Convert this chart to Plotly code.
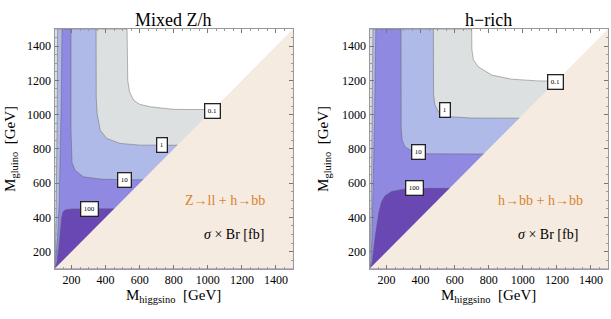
import plotly.graph_objects as go

# ---------------- data ----------------
X_RANGE = [100, 1500]
Y_RANGE = [100, 1500]
TICKS = [200, 400, 600, 800, 1000, 1200, 1400]
LEVELS = ["0.1", "1", "10", "100"]
LEVEL_COLORS = ["#DCE0E0", "#B0BAE8", "#8F89E2", "#6A48B4"]
BEIGE = "#F6EBE0"

# Panel 1: Mixed Z/h  -- contour paths (left branch bottom->top, then right branch top->right)
MIX_C01_X = [98, 98, 526, 527, 530, 540, 564, 600, 662, 750, 800, 900, 1500]
MIX_C01_Y = [90, 1500, 1500, 1300, 1200, 1135, 1085, 1060, 1046, 1036, 1031, 1030, 1030]
MIX_C1_X = [100, 105, 109, 113, 116, 118, 344, 345, 350, 368, 407, 485, 603, 1500]
MIX_C1_Y = [95, 200, 400, 700, 1000, 1500, 1500, 1100, 1008, 909, 861, 832, 822, 820]
MIX_C10_X = [101, 110, 118, 128, 135, 140, 144, 197, 197, 199, 203, 221, 269, 368, 500, 1500]
MIX_C10_Y = [97, 200, 280, 500, 800, 1100, 1500, 1500, 900, 780, 720, 676, 637, 624, 620, 618]
MIX_C100_X = [101, 108, 113, 125, 135, 142, 150, 165, 200, 300, 1500]
MIX_C100_Y = [97, 118, 132, 220, 330, 400, 432, 445, 449, 450, 450]

# Panel 2: h-rich
HR_C01_X = [98, 98, 700, 701, 710, 739, 818, 935, 1090, 1500]
HR_C01_Y = [90, 1500, 1500, 1380, 1320, 1279, 1231, 1207, 1197, 1192]
HR_C1_X = [100, 104, 108, 113, 117, 120, 475, 476, 483, 504, 583, 700, 1500]
HR_C1_Y = [95, 200, 400, 700, 1000, 1500, 1500, 1120, 1060, 1017, 987, 980, 978]
HR_C10_X = [101, 108, 115, 122, 130, 137, 285, 286, 292, 308, 367, 450, 1500]
HR_C10_Y = [97, 150, 300, 600, 1000, 1500, 1500, 920, 850, 812, 777, 771, 768]
HR_C100_X = [101, 108, 115, 135, 155, 170, 190, 230, 300, 450, 1500]
HR_C100_Y = [97, 120, 135, 300, 430, 490, 525, 552, 565, 570, 572]

# contour label boxes
MIX_LABEL_X = [1025, 732, 509, 306]
MIX_LABEL_Y = [1024, 824, 618, 450]
HR_LABEL_X = [1189, 546, 388, 364]
HR_LABEL_Y = [1192, 1029, 783, 570]

TITLES = ["Mixed Z/h", "h\u2212rich"]
CHANNELS = ["Z\u2192ll + h\u2192bb", "h\u2192bb + h\u2192bb"]
CHANNEL_POS = [(1103, 500), (1101, 500)]
SIGMA_TEXT = "<i>\u03c3</i> \u00d7 Br [fb]"
SIGMA_POS = [(1152, 303), (1150, 303)]
XTITLE = "M<sub>higgsino</sub>  [GeV]"
YTITLE = "M<sub>gluino</sub>  [GeV]"

FONT = "Liberation Serif, Times New Roman, DejaVu Serif, serif"

# ---------------- figure ----------------
fig = go.Figure()

panels = [
    dict(xa="x", ya="y",
         contours=[(MIX_C01_X, MIX_C01_Y), (MIX_C1_X, MIX_C1_Y), (MIX_C10_X, MIX_C10_Y), (MIX_C100_X, MIX_C100_Y)],
         lx=MIX_LABEL_X, ly=MIX_LABEL_Y),
    dict(xa="x2", ya="y2",
         contours=[(HR_C01_X, HR_C01_Y), (HR_C1_X, HR_C1_Y), (HR_C10_X, HR_C10_Y), (HR_C100_X, HR_C100_Y)],
         lx=HR_LABEL_X, ly=HR_LABEL_Y),
]

annotations = []
for i, p in enumerate(panels):
    for (cx, cy), col in zip(p["contours"], LEVEL_COLORS):
        fig.add_trace(go.Scatter(
            x=list(cx) + [X_RANGE[1]], y=list(cy) + [Y_RANGE[0]],
            mode="lines", fill="toself", fillcolor=col,
            line=dict(color="rgba(90,90,90,0.55)", width=0.8),
            xaxis=p["xa"], yaxis=p["ya"], showlegend=False, hoverinfo="skip"))
    # kinematically forbidden region (below diagonal)
    fig.add_trace(go.Scatter(
        x=[X_RANGE[0], X_RANGE[1], X_RANGE[1], X_RANGE[0]],
        y=[Y_RANGE[0], Y_RANGE[0], Y_RANGE[1], Y_RANGE[0]],
        mode="lines", fill="toself", fillcolor=BEIGE, line=dict(width=0),
        xaxis=p["xa"], yaxis=p["ya"], showlegend=False, hoverinfo="skip"))
    for t, x, y in zip(LEVELS, p["lx"], p["ly"]):
        annotations.append(dict(
            x=x, y=y, xref=p["xa"], yref=p["ya"], text=t, showarrow=False,
            font=dict(family=FONT, size=7, color="black"),
            bgcolor="white", bordercolor="#222", borderwidth=1.3, borderpad=2.5))
    annotations.append(dict(
        x=CHANNEL_POS[i][0], y=CHANNEL_POS[i][1], xref=p["xa"], yref=p["ya"],
        text=CHANNELS[i], showarrow=False,
        font=dict(family=FONT, size=14, color="#D8832F")))
    annotations.append(dict(
        x=SIGMA_POS[i][0], y=SIGMA_POS[i][1], xref=p["xa"], yref=p["ya"],
        text=SIGMA_TEXT, showarrow=False,
        font=dict(family=FONT, size=14, color="black")))

x_domains = [[54.5 / 611, 293 / 611], [369.5 / 611, 608 / 611]]
y_domain = [1 - 268.8 / 319, 1 - 29 / 319]

for i, xd in enumerate(x_domains):
    cx = (xd[0] + xd[1]) / 2
    annotations.append(dict(x=cx, y=1 - 20 / 319, xref="paper", yref="paper",
                            text=TITLES[i], showarrow=False,
                            font=dict(family=FONT, size=18, color="black"),
                            xanchor="center", yanchor="middle"))
    annotations.append(dict(x=cx, y=1 - 296 / 319, xref="paper", yref="paper",
                            text=XTITLE, showarrow=False,
                            font=dict(family=FONT, size=15, color="black"),
                            xanchor="center", yanchor="middle"))
    annotations.append(dict(x=(11 + 313 * i) / 611, y=(y_domain[0] + y_domain[1]) / 2,
                            xref="paper", yref="paper", text=YTITLE, showarrow=False,
                            textangle=-90,
                            font=dict(family=FONT, size=15, color="black"),
                            xanchor="center", yanchor="middle"))

axis_common = dict(
    tickvals=TICKS, ticktext=[str(t) for t in TICKS],
    ticks="inside", ticklen=4, tickcolor="#777", tickwidth=1,
    minor=dict(dtick=50, ticks="inside", ticklen=2, tickcolor="#999"),
    showline=True, linecolor="#999", linewidth=1, mirror="ticks",
    showgrid=False, zeroline=False,
    tickfont=dict(family=FONT, size=12, color="black"),
)

fig.update_layout(
    width=611, height=319,
    margin=dict(l=0, r=0, t=0, b=0),
    paper_bgcolor="white", plot_bgcolor="white",
    font=dict(family=FONT, color="black"),
    annotations=annotations,
    xaxis=dict(domain=x_domains[0], range=X_RANGE, anchor="y", **axis_common),
    yaxis=dict(domain=y_domain, range=Y_RANGE, anchor="x", **axis_common),
    xaxis2=dict(domain=x_domains[1], range=X_RANGE, anchor="y2", **axis_common),
    yaxis2=dict(domain=y_domain, range=Y_RANGE, anchor="x2", **axis_common),
)

fig.write_html("out.html", config={"displayModeBar": False, "staticPlot": True},
               post_script="document.body.style.margin='0';document.body.style.overflow='hidden';")
